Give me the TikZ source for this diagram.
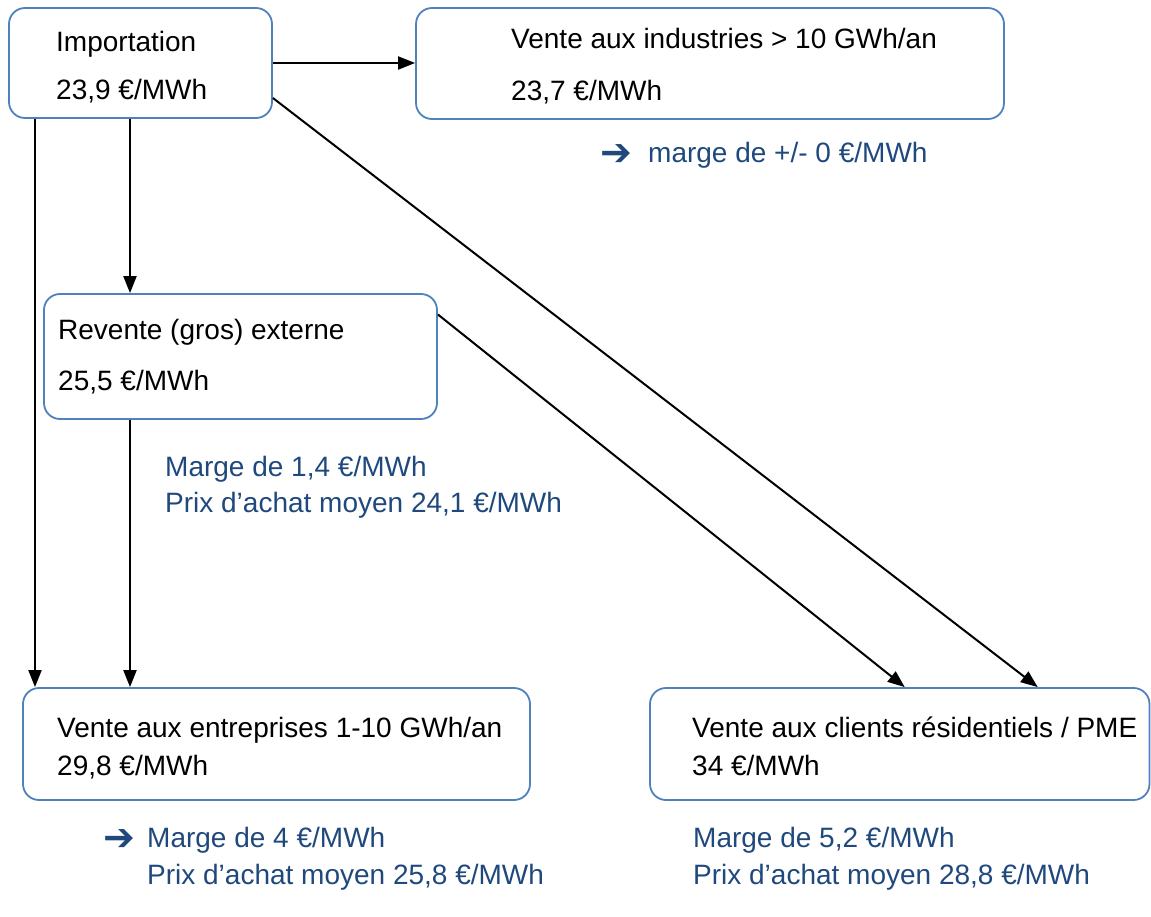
\documentclass[tikz,border=0pt]{standalone}
\usepackage{fontspec}
\setmainfont{Liberation Sans}
\newfontfamily\djv{DejaVu Sans}
\usetikzlibrary{arrows.meta,calc}
\definecolor{boxblue}{RGB}{79,129,189}
\definecolor{noteblue}{RGB}{31,73,125}
\begin{document}
\begin{tikzpicture}[x=1pt,y=-1pt,
  box/.style={draw=boxblue, line width=1.8pt, rounded corners=16pt, inner sep=0pt},
  txt/.style={anchor=base west, inner sep=0pt, font=\fontsize{28}{34}\selectfont, text=black},
  note/.style={txt, text=noteblue},
  arrsym/.style={anchor=base west, inner sep=0pt, font=\djv\bfseries\fontsize{38}{40}\selectfont, text=noteblue},
  arr/.style={line width=2pt, -{Triangle[length=17pt,width=13pt]}}]
\useasboundingbox (0,0) rectangle (1151,917);
% boxes
\node[box, minimum width=263pt, minimum height=110pt] (imp) at (140.5,63) {};
\node[box, minimum width=588pt, minimum height=111pt] (ind) at (710,63.5) {};
\node[box, minimum width=393pt, minimum height=125pt] (rev) at (240.5,356.5) {};
\node[box, minimum width=507pt, minimum height=112pt] (ent) at (276.5,744) {};
\node[box, minimum width=499.5pt, minimum height=112pt] (res) at (899.75,744) {};
% box texts
\node[txt] (imp1) at (56,52) {Importation};
\node[txt] (imp2) at (56,100) {23,9 €/MWh};
\node[txt] (ind1) at (511,49) {Vente aux industries > 10 GWh/an};
\node[txt] (ind2) at (511,101) {23,7 €/MWh};
\node[txt] (rev1) at (58,339) {Revente (gros) externe};
\node[txt] (rev2) at (58,390) {25,5 €/MWh};
\node[txt] (ent1) at (57,737) {Vente aux entreprises 1-10 GWh/an};
\node[txt] (ent2) at (57,775) {29,8 €/MWh};
\node[txt] (res1) at (692,737) {Vente aux clients résidentiels / PME};
\node[txt] (res2) at (692,775) {34 €/MWh};
% notes
\node[arrsym] (a1) at (600,166) {➔};
\node[note] (n1) at (648,163) {marge de +/- 0 €/MWh};
\node[note] (n2a) at (165,476) {Marge de 1,4 €/MWh};
\node[note] (n2b) at (165,512) {Prix d’achat moyen 24,1 €/MWh};
\node[arrsym] (a3) at (103,850) {➔};
\node[note] (n3a) at (147,847) {Marge de 4 €/MWh};
\node[note] (n3b) at (147,884) {Prix d’achat moyen 25,8 €/MWh};
\node[note] (n4a) at (693,847) {Marge de 5,2 €/MWh};
\node[note] (n4b) at (693,884) {Prix d’achat moyen 28,8 €/MWh};
% connectors
\draw[arr] (imp.east) -- (imp.east -| ind.west);
\draw[arr] ([xshift=-105.5pt]imp.south) -- ([xshift=-105.5pt]imp.south |- ent.north);
\draw[arr] ([xshift=-10.5pt]imp.south) -- ([xshift=-10.5pt]imp.south |- rev.north);
\draw[arr] ([xshift=-110.5pt]rev.south) -- ([xshift=-110.5pt]rev.south |- ent.north);
\draw[arr] ([yshift=-35pt]imp.east) -- ([xshift=138pt]res.north);
\draw[arr] ([yshift=42pt]rev.east) -- ([xshift=5pt]res.north);
\end{tikzpicture}
\end{document}
